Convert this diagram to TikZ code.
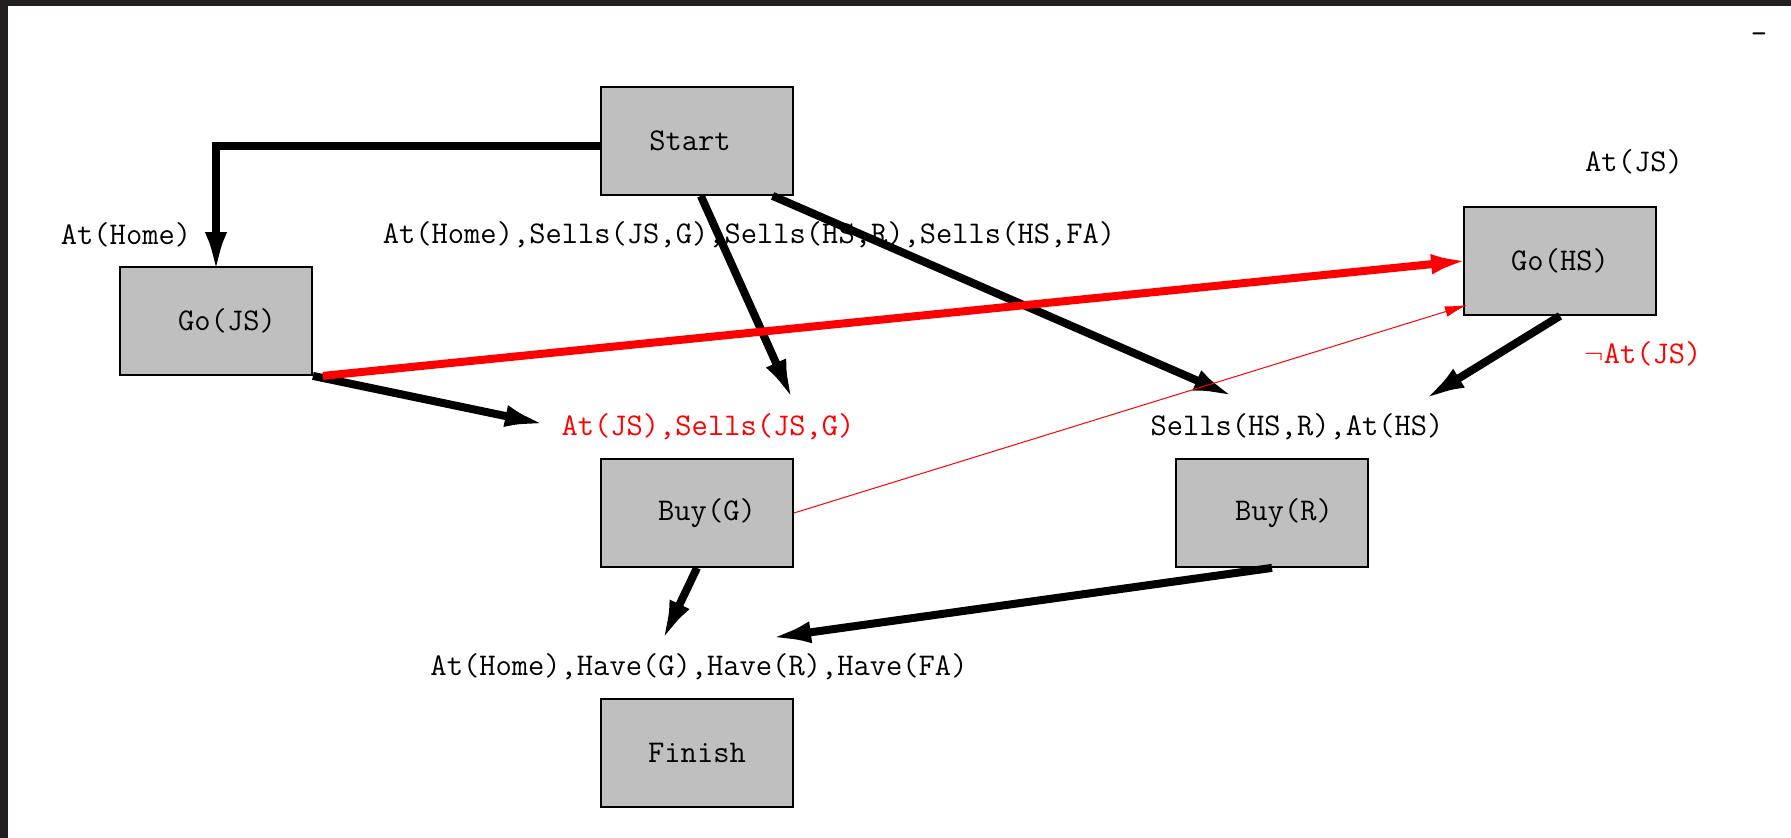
\documentclass[tikz,border=0pt]{standalone}
\usepackage{tikz}
\usetikzlibrary{arrows.meta,positioning}
\definecolor{boxgray}{HTML}{BFBFBF}
\definecolor{shotframe}{HTML}{231F20}
\tikzset{every picture/.style={/utils/exec={\ttfamily\fontsize{15.8}{18}\selectfont}}}

\begin{document}
\begin{tikzpicture}[x=0.5pt,y=-0.5pt]
  \tikzstyle{action} = [rectangle, minimum height=54pt, minimum width=96pt, text centered, draw=black, fill=boxgray, line width=0.9pt]
  \tikzstyle{cond} = [inner sep=0pt]
  \tikzstyle{link} = [line width=4pt, shorten >=-4pt, -{Latex[length=21pt,width=11pt]}]
  \tikzstyle{clobber} = [red, line width=4pt, shorten >=-4pt, -{Latex[length=20pt,width=10pt]}]
  \tikzstyle{threat} = [red, line width=0.5pt, shorten >=-2pt, -{Latex[length=11pt,width=5.5pt]}]

  \useasboundingbox (0,0) rectangle (1791,838);
  \fill [shotframe] (0,0) rectangle (1791,6);
  \fill [shotframe] (0,0) rectangle (8,838);

  \node (start) [action] at (697,141) {Start\kern7pt};
  \node (gojs) [action] at (216,321) {\hspace{11pt}Go(JS)};
  \node (gohs) [action] at (1560,261) {Go(HS)};
  \node (buyg) [action] at (697,513) {\hspace{10pt}Buy(G)};
  \node (buyr) [action] at (1272,513) {\hspace{12pt}Buy(R)};
  \node (finish) [action] at (697,753) {Finish};

  \node (preHome) [cond] at (126,235) {At(Home)};
  \node (preStart) [cond] at (749,235) {At(Home),Sells(JS,G),Sells(HS,R),Sells(HS,FA)};
  \node (preJS) [cond] at (1634,162) {At(JS)};
  \node (notJS) [cond, red] at (1643,354) {$\neg$At(JS)};
  \node (preBuyG) [cond, red] at (708,427) {At(JS),Sells(JS,G)};
  \node (preBuyR) [cond] at (1297,427) {Sells(HS,R),At(HS)};
  \node (preFinish) [cond] at (699,667) {At(Home),Have(G),Have(R),Have(FA)};
  \node (mark) [cond] at (1759,38) {-};

  \coordinate (inG1) at (790,394);
  \coordinate (inG2) at (539,423);
  \coordinate (inR1) at (1228,394);
  \coordinate (inR2) at (1430,396);
  \coordinate (inF1) at (665,635);
  \coordinate (inF2) at (777,637);

  % horizontal then vertical
  \draw [link] ([yshift=-2.5pt]start.west) -| (gojs.north);
  \draw [link] (start.-86) -- (inG1);
  \draw [link] (start.-36.5) -- (inR1);
  \draw [link] (gojs.south east) -- (inG2);
  \draw [link] (gohs.south) -- (inR2);
  \draw [link] (buyg.south) -- (inF1);
  \draw [link] (buyr.south) -- (inF2);
  \draw [clobber] ([xshift=5pt]gojs.south east) -- (gohs.west);
  \draw [threat] (buyg.east) -- (gohs.-155);
\end{tikzpicture}
\end{document}
